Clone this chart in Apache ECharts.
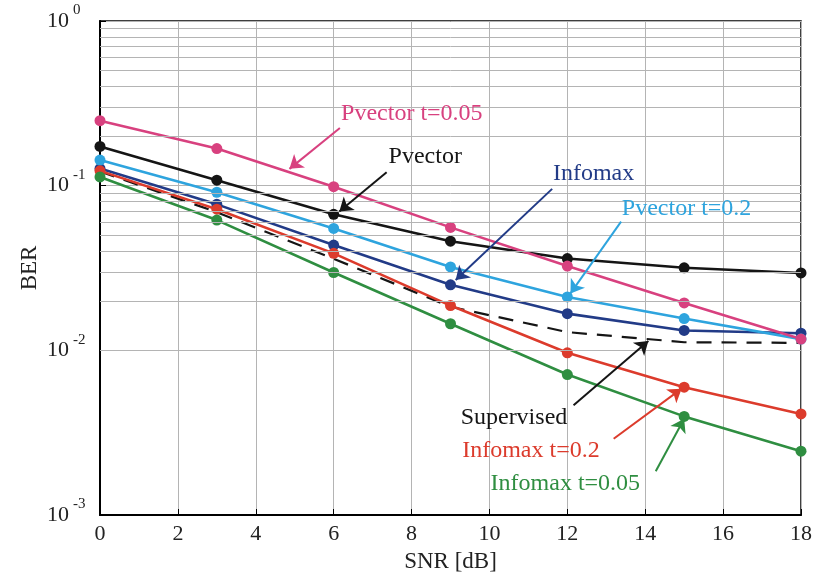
<!DOCTYPE html>
<html><head><meta charset="utf-8">
<script src="https://cdn.jsdelivr.net/npm/echarts@6/dist/echarts.min.js"></script>
<style>html,body{margin:0;padding:0;background:#fff}#c{width:815px;height:581px}</style>
</head><body><div id="c"></div>
<script>
// ---- data ----
const snr = [0, 3, 6, 9, 12, 15, 18];
const pvector = [0.173, 0.108, 0.067, 0.046, 0.0361, 0.0317, 0.0295];
const infomax = [0.127, 0.077, 0.0436, 0.025, 0.0167, 0.0132, 0.0127];
const pvectorT02 = [0.143, 0.0912, 0.055, 0.0321, 0.0211, 0.0156, 0.0117];
const supervised = [0.122, 0.069, 0.036, 0.0184, 0.0129, 0.0112, 0.0111];
const infomaxT02 = [0.123, 0.072, 0.0388, 0.0187, 0.00966, 0.00597, 0.00411];
const infomaxT005 = [0.113, 0.0618, 0.0297, 0.0145, 0.00713, 0.00397, 0.00244];
const pvectorT005 = [0.248, 0.168, 0.0986, 0.0558, 0.0325, 0.0194, 0.0117];
const xTickStep = 2;
const yDecades = [0.001, 0.01, 0.1, 1];

// annotation texts and their anchor points in data space (SNR, BER)
const annPvectorT005 = { text: 'Pvector t=0.05', at: [6.19, 0.2735], from: [6.16, 0.2239], to: [4.865, 0.1265] };
const annPvector = { text: 'Pvector', at: [7.41, 0.1497], from: [7.36, 0.1208], to: [6.145, 0.0696] };
const annInfomax = { text: 'Infomax', at: [11.63, 0.118], from: [11.61, 0.0956], to: [9.133, 0.0267] };
const annPvectorT02 = { text: 'Pvector t=0.2', at: [13.40, 0.0722], from: [13.38, 0.0605], to: [12.08, 0.02216] };
const annSupervised = { text: 'Supervised', at: [9.26, 0.003917], from: [12.16, 0.004634], to: [14.08, 0.01141] };
const annInfomaxT02 = { text: 'Infomax t=0.2', at: [9.30, 0.002466], from: [13.19, 0.002904], to: [14.935, 0.005853] };
const annInfomaxT005 = { text: 'Infomax t=0.05', at: [10.03, 0.001553], from: [14.27, 0.001845], to: [15.0, 0.003846] };

// ---- styling ----
const FONT = 'Liberation Serif';
const minorGridValues = [];
for (let k = 0; k < yDecades.length - 1; k++) {
  for (let m = 2; m <= 9; m++) minorGridValues.push(+(yDecades[k] * m).toPrecision(3));
}

function annotate(a, color) {
  return {
    markLine: {
      silent: true, animation: false,
      symbol: ['none', 'arrow'], symbolSize: 13,
      lineStyle: { color: color, width: 2, type: 'solid' },
      itemStyle: { color: color },
      label: { show: false },
      data: [[{ coord: a.from }, { coord: a.to }]]
    },
    markPoint: {
      silent: true, animation: false,
      symbol: 'circle', symbolSize: 0,
      label: {
        show: true, position: [0, 0], align: 'left', verticalAlign: 'middle',
        formatter: a.text, color: color, fontFamily: FONT, fontSize: 24
      },
      data: [{ coord: a.at }]
    }
  };
}

function lineSeries(name, values, color, ann, extra) {
  const s = Object.assign({
    name: name, type: 'line',
    data: snr.map((x, i) => [x, values[i]]),
    symbol: 'circle', symbolSize: 11,
    itemStyle: { color: color },
    lineStyle: { color: color, width: 2.6 },
    animation: false, z: 3
  }, ann ? annotate(ann, color) : {}, extra || {});
  return s;
}

const C = {
  pink: '#D8417F', black: '#151515', cyan: '#2EA4DE', navy: '#223B87',
  red: '#DC3B2C', green: '#2F8E41'
};

const option = {
  backgroundColor: '#fff',
  animation: false,
  grid: { left: 100, right: 12, top: 21, bottom: 66, show: true, borderColor: '#000', borderWidth: 1.5, backgroundColor: 'transparent' },
  xAxis: {
    type: 'value', min: 0, max: 18, interval: xTickStep,
    name: 'SNR [dB]', nameLocation: 'middle', nameGap: 35, nameMoveOverlap: false,
    nameTextStyle: { fontFamily: FONT, fontSize: 23, color: '#222' },
    axisLine: { lineStyle: { color: '#000', width: 2 } },
    axisTick: { inside: true, length: 6, lineStyle: { color: '#000' } },
    axisLabel: { fontFamily: FONT, fontSize: 22, color: '#222', margin: 8 },
    splitLine: { show: true, lineStyle: { color: '#b4b4b4', width: 1 } }
  },
  yAxis: {
    type: 'log', logBase: 10, min: yDecades[0], max: yDecades[yDecades.length - 1], interval: 1,
    name: 'BER', nameLocation: 'middle', nameGap: 59, nameMoveOverlap: false,
    nameTextStyle: { fontFamily: FONT, fontSize: 23, color: '#222' },
    axisLine: { lineStyle: { color: '#000', width: 2 } },
    axisTick: { inside: true, length: 6, lineStyle: { color: '#000' } },
    axisLabel: {
      align: 'left', margin: 53,
      formatter: v => '{b|10}{s|' + Math.round(Math.log10(v)) + '}',
      rich: {
        b: { fontFamily: FONT, fontSize: 22, color: '#222', lineHeight: 36, verticalAlign: 'middle' },
        s: { fontFamily: FONT, fontSize: 15, color: '#222', lineHeight: 15, verticalAlign: 'top', padding: [0, 0, 0, 4] }
      }
    },
    splitLine: { show: true, lineStyle: { color: '#b4b4b4', width: 1 } }
  },
  series: [
    {
      name: 'minor-grid', type: 'line', data: [], z: 1, silent: true,
      markLine: {
        silent: true, animation: false, symbol: ['none', 'none'],
        label: { show: false },
        lineStyle: { color: '#b4b4b4', width: 1, type: 'solid' },
        data: minorGridValues.map(v => ({ yAxis: v }))
      }
    },
    lineSeries('Pvector', pvector, C.black, annPvector),
    lineSeries('Infomax', infomax, C.navy, annInfomax),
    lineSeries('Pvector t=0.2', pvectorT02, C.cyan, annPvectorT02),
    lineSeries('Supervised', supervised, C.black, annSupervised, {
      symbol: 'none', lineStyle: { color: C.black, width: 2.2, type: [15, 10] }
    }),
    lineSeries('Infomax t=0.2', infomaxT02, C.red, annInfomaxT02),
    lineSeries('Infomax t=0.05', infomaxT005, C.green, annInfomaxT005),
    lineSeries('Pvector t=0.05', pvectorT005, C.pink, annPvectorT005)
  ]
};
echarts.init(document.getElementById('c'), null, { renderer: 'canvas' }).setOption(option);
</script>
</body></html>
